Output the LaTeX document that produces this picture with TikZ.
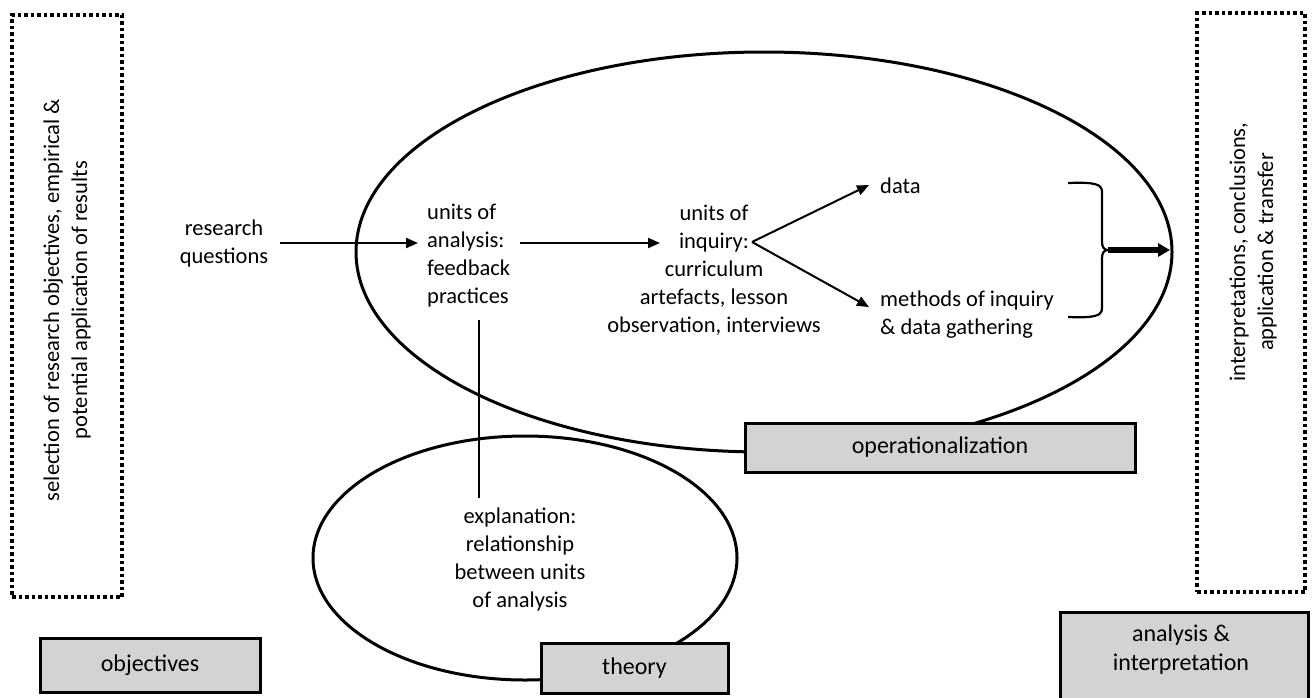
\documentclass[tikz,border=0pt]{standalone}
\usepackage{fontspec}
\setmainfont{Carlito}
\usetikzlibrary{arrows.meta}
\definecolor{boxgray}{RGB}{211,211,211}
\tikzset{
  txt/.style={align=center, inner sep=0pt, font=\fontsize{22.5}{28}\selectfont},
  ltxt/.style={align=left, inner sep=0pt, font=\fontsize{22.5}{28}\selectfont},
  graybox/.style={draw=black, line width=3pt, fill=boxgray, inner sep=0pt, align=center, font=\fontsize{24}{29}\selectfont},
  dotbox/.style={draw=black, line width=3.5pt, dash pattern=on 3.5pt off 3pt, inner sep=0pt},
  oval/.style={draw=black, line width=3pt},
  arr/.style={line width=2pt, -{Triangle[length=12pt,width=10pt]}},
  plain/.style={line width=2pt}
}
\begin{document}
\begin{tikzpicture}[x=1pt,y=-1pt]
\useasboundingbox (0,0) rectangle (1316,697);
% ellipses
\draw[oval] (764,252) ellipse [x radius=408, y radius=200];
\draw[oval] (525,558) ellipse [x radius=212, y radius=122];
% dotted boxes
\node[dotbox, minimum width=110pt, minimum height=582pt] (leftbox) at (67,306) {};
\node[txt, rotate=90] (lefttext) at (67,300) {selection of research objectives, empirical \&\\potential application of results};
\node[dotbox, minimum width=108pt, minimum height=579pt] (rightbox) at (1251,302.5) {};
\node[txt, rotate=90] (righttext) at (1253,252) {interpretations, conclusions,\\application \& transfer};
% texts
\node[txt] (rq) at (224,243) {research\\questions};
\node[ltxt, anchor=west] (ua) at (427,256) {units of\\analysis:\\feedback\\practices};
\node[txt] (ui) at (714,270) {units of\\inquiry:\\curriculum\\artefacts, lesson\\observation, interviews};
\node[ltxt, anchor=west] (data) at (880,186) {data};
\node[ltxt, anchor=west] (meth) at (880,315) {methods of inquiry\\\& data gathering};
\node[txt] (expl) at (520,559) {explanation:\\relationship\\between units\\of analysis};
% connectors
\coordinate (rqe) at (280,243);
\coordinate (uae) at (418,243);
\coordinate (uas) at (520,243);
\coordinate (uie) at (660,243);
\coordinate (split) at (752,242);
\coordinate (dt) at (869,185);
\coordinate (mt) at (869,307);
\coordinate (vtop) at (479,320);
\coordinate (vbot) at (479,498);
\draw[arr] (rqe) -- (uae);
\draw[arr] (uas) -- (uie);
\draw[arr] (split) -- (dt);
\draw[arr] (split) -- (mt);
\draw[plain] (vtop) -- (vbot);
% brace
\coordinate (b1) at (1068,183);
\coordinate (b2) at (1068,317);
\coordinate (btip) at (1108,250);
\coordinate (aend) at (1170,250);
\draw[line width=2.2pt] (b1) .. controls (1095,182) and (1102,184) .. (1102,192) -- (1102,242)
  .. controls (1102,247) and (1104,250) .. (btip)
  .. controls (1104,250) and (1102,253) .. (1102,258) -- (1102,308)
  .. controls (1102,316) and (1095,318) .. (b2);
\draw[line width=5.5pt, -{Triangle[length=12pt,width=13pt]}] (btip) -- (aend);
% gray boxes
\node[graybox, minimum width=220pt, minimum height=54pt] (obj) at (150,665) {objectives};
\node[graybox, minimum width=187pt, minimum height=50pt] (theory) at (634.5,668) {theory};
\node[graybox, minimum width=390pt, minimum height=49pt] (oper) at (940,447.5) {operationalization};
\draw[draw=black, line width=3pt, fill=boxgray] (1060,612) rectangle (1308,740);
\node[graybox, draw=none, fill=none] (anal) at (1181,650) {analysis \&\\interpretation};
\end{tikzpicture}
\end{document}
